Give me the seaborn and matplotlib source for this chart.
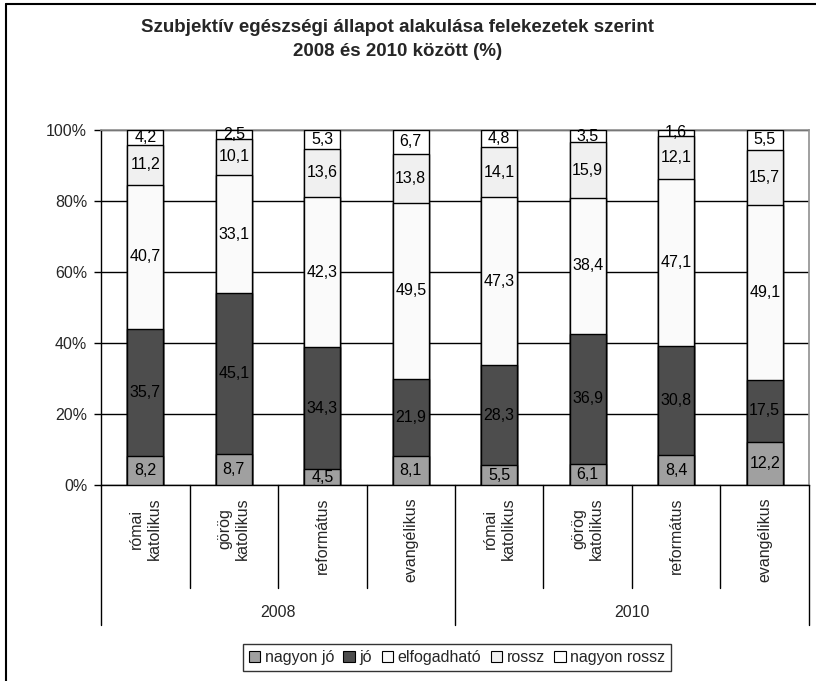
import numpy as np
import pandas as pd
import matplotlib
matplotlib.use("Agg")
import matplotlib.pyplot as plt
from matplotlib.patches import Patch
from matplotlib.lines import Line2D
import seaborn as sns

# --- data ---
years = ["2008", "2010"]
denominations = ["római\nkatolikus", "görög\nkatolikus", "református", "evangélikus"]
levels = ["nagyon jó", "jó", "elfogadható", "rossz", "nagyon rossz"]

nagyon_jo = [8.2, 8.7, 4.5, 8.1, 5.5, 6.1, 8.4, 12.2]
jo = [35.7, 45.1, 34.3, 21.9, 28.3, 36.9, 30.8, 17.5]
elfogadhato = [40.7, 33.1, 42.3, 49.5, 47.3, 38.4, 47.1, 49.1]
rossz = [11.2, 10.1, 13.6, 13.8, 14.1, 15.9, 12.1, 15.7]
nagyon_rossz = [4.2, 2.5, 5.3, 6.7, 4.8, 3.5, 1.6, 5.5]

colors = ["#A0A0A0", "#4D4D4D", "#FAFAFA", "#F0F0F0", "#FFFFFF"]

# --- build table ---
keys = [f"{y} {d}" for y in years for d in denominations]
df = pd.DataFrame({"key": keys,
                   "nagyon jó": nagyon_jo, "jó": jo, "elfogadható": elfogadhato,
                   "rossz": rossz, "nagyon rossz": nagyon_rossz})
vals = df[levels].to_numpy(dtype=float)
pct = vals / vals.sum(axis=1, keepdims=True) * 100
cum = np.cumsum(pct, axis=1)

sns.set_style("white")
plt.rcParams["font.family"] = ["Liberation Sans", "DejaVu Sans"]

fig = plt.figure(figsize=(8.16, 6.81), dpi=100)
ax = fig.add_axes([0.1238, 0.2878, 0.8676, 0.5213])

# stacked bars: draw cumulative totals from the top layer down
for j in range(len(levels) - 1, -1, -1):
    sns.barplot(x=df["key"], y=cum[:, j], order=keys, color=colors[j],
                width=0.41, edgecolor="black", linewidth=1.0, saturation=1,
                ax=ax, zorder=3)

# value labels
for i in range(len(keys)):
    for j in range(len(levels)):
        ymid = cum[i, j] - pct[i, j] / 2
        txt = f"{vals[i, j]:.1f}".replace(".", ",")
        ax.text(i, ymid, txt, ha="center", va="center", fontsize=11.5,
                color="black", zorder=4)

ax.set_ylim(0, 100)
ax.set_xlim(-0.5, len(keys) - 0.5)
ax.set_yticks([0, 20, 40, 60, 80, 100])
ax.set_yticklabels([f"{t}%" for t in [0, 20, 40, 60, 80, 100]], fontsize=11.5)
ax.yaxis.grid(True, color="black", linewidth=1.0, zorder=0)
ax.set_axisbelow(True)
ax.tick_params(axis="y", which="both", left=True, length=5, width=1, color="black", pad=5)
ax.set_xlabel("")
ax.set_ylabel("")

for side in ["top", "right"]:
    ax.spines[side].set_color("#909090")
    ax.spines[side].set_linewidth(1.2)
for side in ["left", "bottom"]:
    ax.spines[side].set_color("black")
    ax.spines[side].set_linewidth(1.0)

# category labels (rotated) below axis
ax.set_xticks(range(len(keys)))
ax.set_xticklabels(denominations * 2, rotation=90, fontsize=11.5,
                   multialignment="center")
ax.tick_params(axis="x", length=0, pad=9)
for lab in ax.get_xticklabels():
    lab.set_va("top")
    lab.set_ha("center")

# separators for the two-level category axis
tr = ax.get_xaxis_transform()
for b in np.arange(0.5, len(keys) - 0.5, 1.0):
    if b == 3.5:
        continue
    ax.add_line(Line2D([b, b], [0, -0.29], transform=tr, color="black",
                       linewidth=1.0, clip_on=False))
for b in [-0.5, 3.5, len(keys) - 0.5]:
    ax.add_line(Line2D([b, b], [0, -0.395], transform=tr, color="black",
                       linewidth=1.0, clip_on=False))
for k, y in enumerate(years):
    ax.text(1.5 + 4 * k, -0.36, y, transform=tr, ha="center", va="center",
            fontsize=11.5)

# title
fig.text(0.487, 0.972, "Szubjektív egészségi állapot alakulása felekezetek szerint\n2008 és 2010 között (%)",
         ha="center", va="top", fontsize=13.5, fontweight="bold", linespacing=1.5)

# legend
handles = [Patch(facecolor=c, edgecolor="black", linewidth=0.8) for c in colors]
leg = fig.legend(handles, levels, loc="center", bbox_to_anchor=(0.56, 0.0345),
                 ncol=5, frameon=True, fancybox=False, fontsize=11.5,
                 handlelength=0.7, handleheight=0.7, handletextpad=0.3,
                 columnspacing=0.6, borderpad=0.35, edgecolor="black")
leg.get_frame().set_linewidth(1.0)

# outer chart border (top and left visible)
fig.add_artist(Line2D([0.0074, 1.0], [0.9942, 0.9942], transform=fig.transFigure,
                      color="black", linewidth=1.5))
fig.add_artist(Line2D([0.0074, 0.0074], [0.0, 0.9942], transform=fig.transFigure,
                      color="black", linewidth=1.5))

fig.savefig("out.png", dpi=100)
